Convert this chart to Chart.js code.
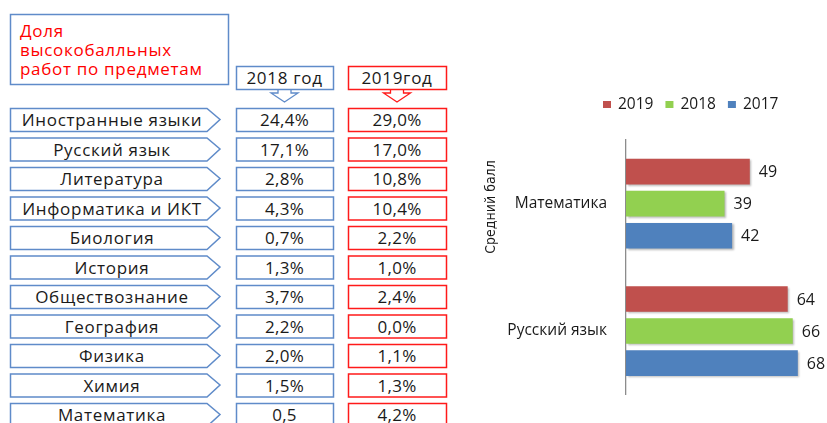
<!DOCTYPE html>
<html><head><meta charset="utf-8">
<script src="https://cdn.jsdelivr.net/npm/chart.js@4.4.1/dist/chart.umd.min.js"></script>
<style>
html,body{margin:0;padding:0;background:#fff;}
#wrap{position:relative;width:827px;height:423px;overflow:hidden;background:#fff;}
#tbl{position:absolute;left:0;top:0;}
#chartBox{position:absolute;left:455px;top:90px;width:372px;height:333px;}
</style></head><body>
<div id="wrap">
<svg id="tbl" width="470" height="423" xmlns="http://www.w3.org/2000/svg"></svg>
<div id="chartBox"><canvas id="c" width="372" height="333"></canvas></div>
</div>
<script>
// ---- Table data (left) ----
const tableTitle = ["Доля", "высокобалльных", "работ по предметам"];
const yearHeaders = ["2018 год", "2019год"];
const subjects = ["Иностранные языки", "Русский язык", "Литература", "Информатика и ИКТ", "Биология", "История", "Обществознание", "География", "Физика", "Химия", "Математика"];
const share2018 = ["24,4%", "17,1%", "2,8%", "4,3%", "0,7%", "1,3%", "3,7%", "2,2%", "2,0%", "1,5%", "0,5"];
const share2019 = ["29,0%", "17,0%", "10,8%", "10,4%", "2,2%", "1,0%", "2,4%", "0,0%", "1,1%", "1,3%", "4,2%"];

// ---- Chart data (right) ----
const chartCategories = ["Математика", "Русский язык"];
const seriesLabels = ["2019", "2018", "2017"];
const avg2019 = [49, 64];
const avg2018 = [39, 66];
const avg2017 = [42, 68];
const yAxisTitle = "Средний балл";

// ---- Build table (SVG) ----
const BLUE = '#5f8bc9', RED = '#ff1a1a', TXT = '#1a1a1a', FONT = "'Open Sans', 'DejaVu Sans', sans-serif";
const svg = document.getElementById('tbl');
const NS = 'http://www.w3.org/2000/svg';
function el(tag, attrs, text) {
  const e = document.createElementNS(NS, tag);
  for (const k in attrs) e.setAttribute(k, attrs[k]);
  if (text !== undefined) e.textContent = text;
  svg.appendChild(e);
  return e;
}
const cyr = {'font-family': FONT, 'font-size': 17, 'letter-spacing': 0.7};
// title box
el('rect', {x: 10.5, y: 14.5, width: 218, height: 70, fill: '#fff', stroke: BLUE, 'stroke-width': 1.5});
tableTitle.forEach((t, i) => el('text', Object.assign({x: 20, y: 36.5 + i * 19.3, fill: '#ff0000'}, cyr), t));
// year headers with down arrows
const colBoxes = [[236, 333, BLUE], [348, 446, RED]];
colBoxes.forEach((c, j) => {
  const [x0, x1, col] = c;
  const cx = (x0 + x1) / 2;
  el('polygon', {points: `${cx-6.5},88 ${cx-6.5},93 ${cx-13.5},93 ${cx},102 ${cx+13.5},93 ${cx+6.5},93 ${cx+6.5},88`, fill: '#fff', stroke: col, 'stroke-width': 1.3});
  el('rect', {x: x0 + 0.5, y: 66.5, width: x1 - x0, height: 23, fill: '#fff', stroke: col, 'stroke-width': 1.5});
  el('text', Object.assign({x: cx, y: 84, 'text-anchor': 'middle', fill: TXT}, cyr), yearHeaders[j]);
});
// rows
subjects.forEach((s, i) => {
  const top = 108 + i * 29.5, h = 23, mid = top + h / 2;
  el('polygon', {points: `10.5,${top+0.5} 207,${top+0.5} 220,${mid} 207,${top+h+0.5} 10.5,${top+h+0.5}`, fill: '#fff', stroke: BLUE, 'stroke-width': 1.5});
  el('text', Object.assign({x: 112, y: mid + 6.5, 'text-anchor': 'middle', fill: TXT}, cyr), s);
  [share2018[i], share2019[i]].forEach((v, j) => {
    const [x0, x1, col] = colBoxes[j];
    el('rect', {x: x0 + 0.5, y: top + 0.5, width: x1 - x0, height: h, fill: '#fff', stroke: col, 'stroke-width': 1.5});
    el('text', {x: (x0 + x1) / 2, y: mid + 6.5, 'text-anchor': 'middle', fill: TXT, 'font-family': FONT, 'font-size': 17, 'letter-spacing': 0.3}, v);
  });
});

// ---- Chart ----
const colors = ['#c0504d', '#92d050', '#4f81bd'];
const seriesData = [avg2019, avg2018, avg2017];

const decorPlugin = {
  id: 'decor',
  beforeDatasetsDraw(chart) {
    const ctx = chart.ctx;
    ctx.save();
    ctx.shadowColor = 'rgba(0,0,0,0.28)';
    ctx.shadowOffsetX = 1.5;
    ctx.shadowOffsetY = 1.5;
    ctx.shadowBlur = 2;
  },
  afterDatasetsDraw(chart) {
    const ctx = chart.ctx;
    ctx.restore();
    ctx.save();
    ctx.font = "16px 'Open Sans', sans-serif";
    ctx.fillStyle = TXT;
    ctx.textBaseline = 'middle';
    ctx.textAlign = 'left';
    chart.data.datasets.forEach((ds, di) => {
      chart.getDatasetMeta(di).data.forEach((bar, i) => {
        ctx.fillText(String(ds.data[i]), bar.x + 9, bar.y + 1);
      });
    });
    ctx.restore();
  },
  afterDraw(chart) {
    const ctx = chart.ctx;
    ctx.save();
    // legend
    ctx.font = "15.5px 'Open Sans', sans-serif";
    ctx.textBaseline = 'middle';
    let x = 148;
    const y = 15;
    chart.data.datasets.forEach((ds) => {
      ctx.fillStyle = ds.backgroundColor;
      ctx.fillRect(x, y - 4, 8, 7);
      ctx.fillStyle = TXT;
      ctx.fillText(ds.label, x + 15, y);
      x += 15 + ctx.measureText(ds.label).width + 12;
    });
    // y axis title
    ctx.translate(36, 117);
    ctx.rotate(-Math.PI / 2);
    ctx.font = "14px 'Liberation Sans Narrow', 'Arial Narrow', 'DejaVu Sans Condensed', sans-serif";
    ctx.textAlign = 'center';
    ctx.fillStyle = TXT;
    ctx.fillText(yAxisTitle, 0, 0);
    ctx.restore();
  }
};

new Chart(document.getElementById('c'), {
  type: 'bar',
  data: {
    labels: chartCategories,
    datasets: seriesLabels.map((l, i) => ({
      label: l, data: seriesData[i], backgroundColor: colors[i],
      borderWidth: 0, categoryPercentage: 0.755, barPercentage: 0.8
    }))
  },
  options: {
    indexAxis: 'y',
    responsive: false,
    animation: false,
    layout: {padding: {left: 0, right: 9, top: 50, bottom: 17}},
    plugins: {legend: {display: false}, tooltip: {enabled: false}},
    scales: {
      x: {display: false, min: 0, max: 76},
      y: {
        grid: {display: false, drawTicks: false},
        border: {display: true, color: '#8c8c8c', width: 1.3},
        ticks: {color: TXT, font: {family: "'Open Sans', sans-serif", size: 15.5}, padding: 19},
        afterFit(s) { s.width = 171; }
      }
    }
  },
  plugins: [decorPlugin]
});
</script>
</body></html>
